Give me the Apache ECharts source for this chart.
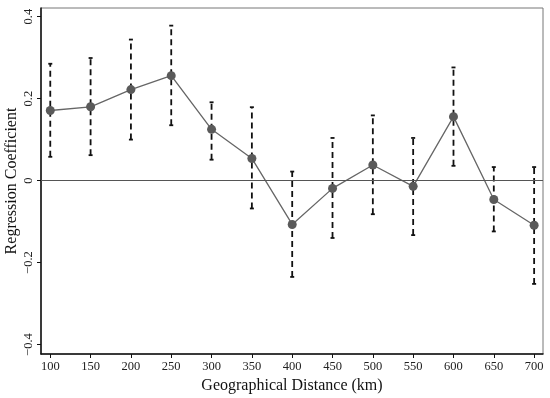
<!DOCTYPE html>
<html><head><meta charset="utf-8">
<script src="https://cdn.jsdelivr.net/npm/echarts@6/dist/echarts.min.js"></script>
<style>html,body{margin:0;padding:0;background:#fff}#c{width:550px;height:398px}</style>
</head><body><div id="c"></div>
<script>
const distances = [100,150,200,250,300,350,400,450,500,550,600,650,700];
const coefficients = [0.171,0.180,0.222,0.256,0.125,0.054,-0.107,-0.019,0.038,-0.014,0.156,-0.046,-0.109];
const upperCI = [0.285,0.299,0.344,0.378,0.191,0.179,0.022,0.104,0.159,0.104,0.276,0.033,0.033];
const lowerCI = [0.058,0.062,0.100,0.135,0.051,-0.068,-0.235,-0.140,-0.082,-0.133,0.036,-0.124,-0.252];
const xTicks = [100,150,200,250,300,350,400,450,500,550,600,650,700];
const yTicks = [-0.4,-0.2,0,0.2,0.4];
const yTitle = 'Regression Coefficient';
const xTitle = 'Geographical Distance (km)';

const font = 'Liberation Serif';
const chart = echarts.init(document.getElementById('c'));
const errData = distances.map((d,i)=>[d, lowerCI[i], upperCI[i]]);
chart.setOption({
  animation:false,
  graphic:[{type:'text',x:12,y:181,rotation:Math.PI/2,
    style:{text:yTitle,font:'16px "Liberation Serif"',fill:'#111',textAlign:'center',textVerticalAlign:'middle'}}],
  grid:{left:41,top:8,right:7,bottom:44,show:true,borderColor:'#777',borderWidth:1,
    containLabel:false,outerBoundsMode:'none'},
  xAxis:{type:'value',min:88.5,max:711,
    name:xTitle,nameLocation:'middle',nameGap:24,nameMoveOverlap:false,
    nameTextStyle:{fontFamily:font,fontSize:16,color:'#111'},
    axisLine:{show:true,onZero:false,lineStyle:{color:'#111',width:1.5}},
    axisTick:{show:true,customValues:xTicks,length:4,lineStyle:{color:'#111',width:1}},
    axisLabel:{customValues:xTicks,fontFamily:font,fontSize:12.5,color:'#222',margin:6},
    splitLine:{show:false}},
  yAxis:{type:'value',min:-0.423,max:0.421,
    axisLine:{show:true,onZero:false,lineStyle:{color:'#111',width:1.5}},
    axisTick:{show:true,customValues:yTicks,length:4,lineStyle:{color:'#111',width:1}},
    axisLabel:{customValues:yTicks,rotate:90,fontFamily:font,fontSize:12.5,color:'#222',margin:6,
      formatter:v=>{const s=(Math.abs(v)<1e-9)?'0':String(Math.round(v*10)/10);return s.replace('-','\u2212');}},
    splitLine:{show:false}},
  series:[
    {type:'custom',data:errData,z:2,
      renderItem:(params,api)=>{
        const x=api.value(0);
        const lo=api.coord([x,api.value(1)]);
        const hi=api.coord([x,api.value(2)]);
        const st={stroke:'#111',lineWidth:1.8};
        return {type:'group',children:[
          {type:'line',shape:{x1:lo[0],y1:lo[1],x2:hi[0],y2:hi[1]},style:{stroke:'#111',lineWidth:1.8,lineDash:[6,4]}},
          {type:'line',shape:{x1:lo[0]-2,y1:lo[1],x2:lo[0]+2,y2:lo[1]},style:st},
          {type:'line',shape:{x1:hi[0]-2,y1:hi[1],x2:hi[0]+2,y2:hi[1]},style:st}
        ]};
      }},
    {type:'line',data:distances.map((d,i)=>[d,coefficients[i]]),z:3,
      symbol:'circle',symbolSize:9,
      itemStyle:{color:'#5a5a5a'},lineStyle:{color:'#666',width:1.3},
      markLine:{silent:true,symbol:'none',label:{show:false},
        lineStyle:{color:'#555',width:1,type:'solid'},data:[{yAxis:0}]}}
  ]
});
</script></body></html>
